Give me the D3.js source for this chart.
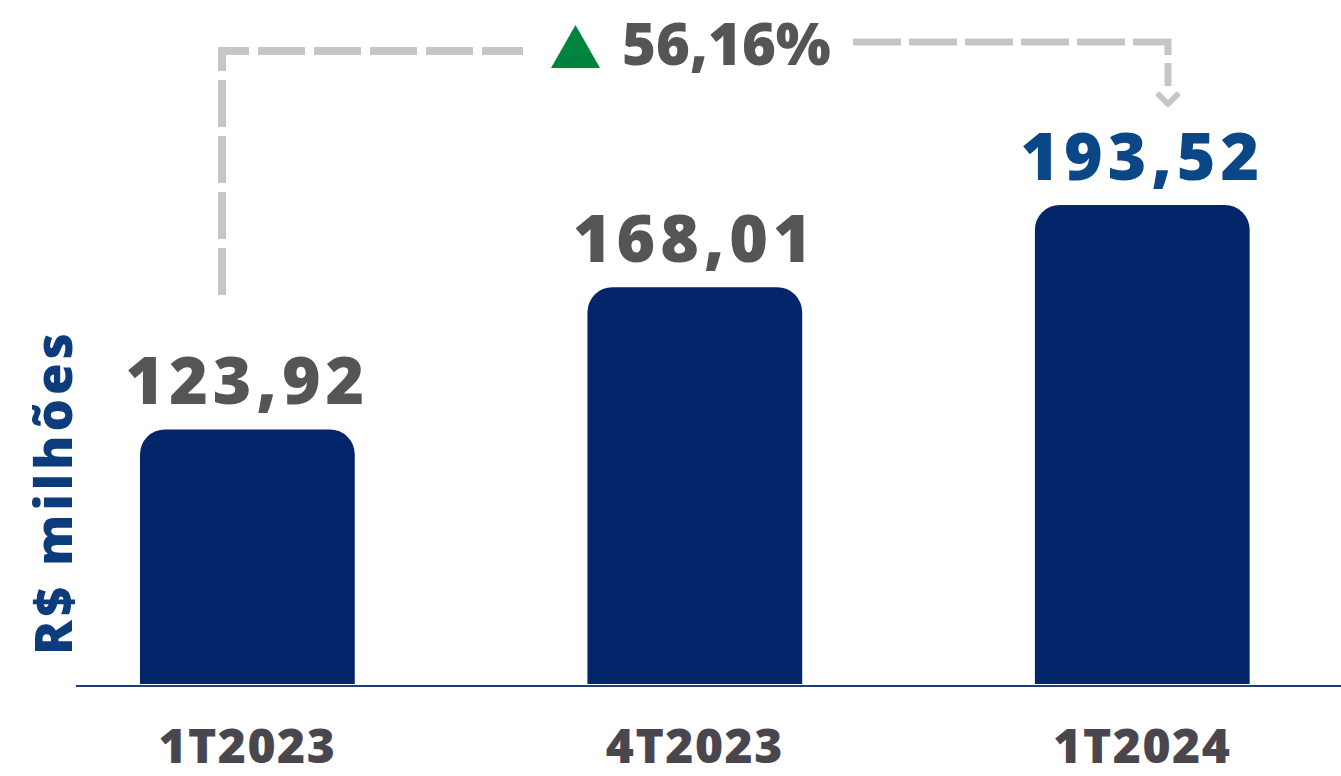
<!DOCTYPE html>
<html><head><meta charset="utf-8">
<script src="https://cdn.jsdelivr.net/npm/d3@7"></script>
<style>html,body{margin:0;padding:0;background:#fff;overflow:hidden}</style>
</head><body>
<svg id="chart" width="1341" height="776"></svg>
<script>
const categories = ["1T2023", "4T2023", "1T2024"];
const values = [123.92, 168.01, 193.52];
const valueLabels = ["123,92", "168,01", "193,52"];
const growthLabel = "56,16%";
const axisTitle = "R$ milhões";

const svg = d3.select("#chart");
const baseY = 684;
const x = d3.scaleBand().domain(categories).range([23.65, 1366]).paddingInner(0.52).paddingOuter(0.26);
const y = d3.scaleLinear().domain([45, 200]).range([baseY, 184]);
const r = 25;

function topRounded(x0, y0, w, h, rad) {
  const p = d3.path();
  p.moveTo(x0, y0 + h);
  p.lineTo(x0, y0 + rad);
  p.arcTo(x0, y0, x0 + rad, y0, rad);
  p.lineTo(x0 + w - rad, y0);
  p.arcTo(x0 + w, y0, x0 + w, y0 + rad, rad);
  p.lineTo(x0 + w, y0 + h);
  p.closePath();
  return p.toString();
}

svg.selectAll("path.bar").data(values).join("path").attr("class", "bar")
  .attr("d", (d, i) => topRounded(x(categories[i]), y(d), x.bandwidth(), baseY - y(d), r))
  .attr("fill", "#022669");

svg.append("line").attr("x1", 76).attr("x2", 1341).attr("y1", 686).attr("y2", 686)
  .attr("stroke", "#1f3e7c").attr("stroke-width", 2);

svg.selectAll("text.val").data(values).join("text").attr("class", "val")
  .attr("x", (d, i) => x(categories[i]) + x.bandwidth() / 2)
  .attr("y", d => y(d) - 25)
  .attr("text-anchor", "middle")
  .style("font-family", "'Open Sans'").style("font-weight", 800).style("font-size", "66px")
  .style("letter-spacing", "5px")
  .attr("fill", (d, i) => i === values.length - 1 ? "#0b4787" : "#555555")
  .text((d, i) => valueLabels[i]);

svg.selectAll("text.cat").data(categories).join("text").attr("class", "cat")
  .attr("x", d => x(d) + x.bandwidth() / 2)
  .attr("y", 763)
  .attr("text-anchor", "middle")
  .style("font-family", "'Open Sans'").style("font-weight", 800).style("font-size", "48px")
  .style("letter-spacing", "1.5px")
  .attr("fill", "#4a464d")
  .text(d => d);

svg.append("text")
  .attr("transform", "translate(72,492) rotate(-90)")
  .attr("text-anchor", "middle")
  .style("font-family", "'Open Sans'").style("font-weight", 800).style("font-size", "51px")
  .style("letter-spacing", "4px")
  .attr("fill", "#0c3c7c")
  .text(axisTitle);

// growth connector
const gray = "#c6c6c6";
svg.append("path").attr("d", "M222,295 V51 H523").attr("fill", "none")
  .attr("stroke", gray).attr("stroke-width", 8).attr("stroke-dasharray", "47,9");
svg.append("path").attr("d", "M853,42 H1168 V86").attr("fill", "none")
  .attr("stroke", gray).attr("stroke-width", 7).attr("stroke-dasharray", "48,8");
svg.append("path").attr("d", "M1159,95 L1168,104 L1177,95").attr("fill", "none")
  .attr("stroke", gray).attr("stroke-width", 6).attr("stroke-linecap", "round").attr("stroke-linejoin", "round");
svg.append("path").attr("d", "M551,68 L575.5,25 L600,68 Z").attr("fill", "#00843d");
svg.append("text").attr("x", 622).attr("y", 65)
  .style("font-family", "'Open Sans'").style("font-weight", 800).style("font-size", "58px")
  .style("letter-spacing", "0px")
  .attr("fill", "#555555").text(growthLabel);
</script>
</body></html>
